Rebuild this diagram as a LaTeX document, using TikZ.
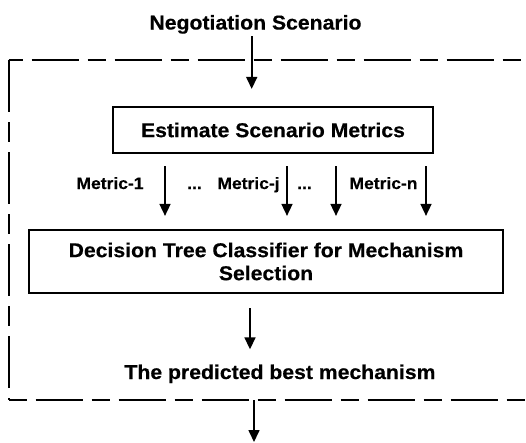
\documentclass[tikz,border=0pt]{standalone}
\usepackage{fontspec}
\setmainfont{Liberation Sans}[FakeStretch=1.06, FakeBold=0.4]
\usetikzlibrary{arrows.meta}
\begin{document}
\begin{tikzpicture}[x=1pt,y=-1pt,
  lbl/.style={font=\bfseries\fontsize{20}{23}\selectfont, inner sep=0pt},
  mlbl/.style={font=\bfseries\fontsize{16.5}{19}\selectfont, inner sep=0pt},
  box/.style={draw, line width=2.2pt, font=\bfseries\fontsize{20}{23}\selectfont, align=center, inner sep=0pt},
  arr/.style={line width=1.6pt, -{Triangle[length=12pt,width=11pt]}},
  hframe/.style={line width=2pt, dash pattern=on 47pt off 9pt on 18pt off 9pt},
  vframe/.style={line width=2pt, dash pattern=on 52pt off 10pt on 20pt off 10pt}]
\useasboundingbox (0,0) rectangle (526,442);
\clip (0,0) rectangle (526,442);

% dashed frame
\draw[hframe, dash phase=60pt] (8.5,60) -- (540,60);
\draw[vframe] (8.5,60) -- (8.5,400);
\draw[hframe, dash phase=56pt] (8.5,400) -- (540,400);

% nodes
\node[lbl, anchor=base] (ns) at (255.5,29.5) {Negotiation Scenario};
\node[box, minimum width=320pt, minimum height=46pt] (est) at (273,130) {Estimate Scenario Metrics};
\node[box, minimum width=474pt, minimum height=63pt] (dt) at (266,261.5) {Decision Tree Classifier for Mechanism\\Selection};
\node[lbl, anchor=base] (best) at (280,379) {The predicted best mechanism};

\node[mlbl, anchor=base] (m1) at (110,189) {Metric-1};
\node[mlbl, anchor=base] (d1) at (194.5,189) {...};
\node[mlbl, anchor=base] (mj) at (248.5,189) {Metric-j};
\node[mlbl, anchor=base] (d2) at (304.5,189) {...};
\node[mlbl, anchor=base] (mn) at (383.5,189) {Metric-n};

% x positions of vertical connectors
\coordinate (xa) at (251.7,0);
\coordinate (xb) at (165,0);
\coordinate (xc) at (287,0);
\coordinate (xd) at (336,0);
\coordinate (xe) at (426,0);
\coordinate (xf) at (250,0);
\coordinate (xg) at (254,0);
\coordinate (out) at (254,442);

% connectors
\draw[arr, shorten <=2.5pt, shorten >=17pt] (ns.south -| xa) -- (est.north -| xa);
\foreach \c in {xb,xc,xd,xe}
  \draw[arr, shorten <=12pt, shorten >=13pt] (est.south -| \c) -- (dt.north -| \c);
\draw[arr, shorten <=14pt, shorten >=15pt] (dt.south -| xf) -- (best.north -| xf);
\draw[arr, shorten <=17pt] (best.south -| xg) -- (out);
\end{tikzpicture}
\end{document}
